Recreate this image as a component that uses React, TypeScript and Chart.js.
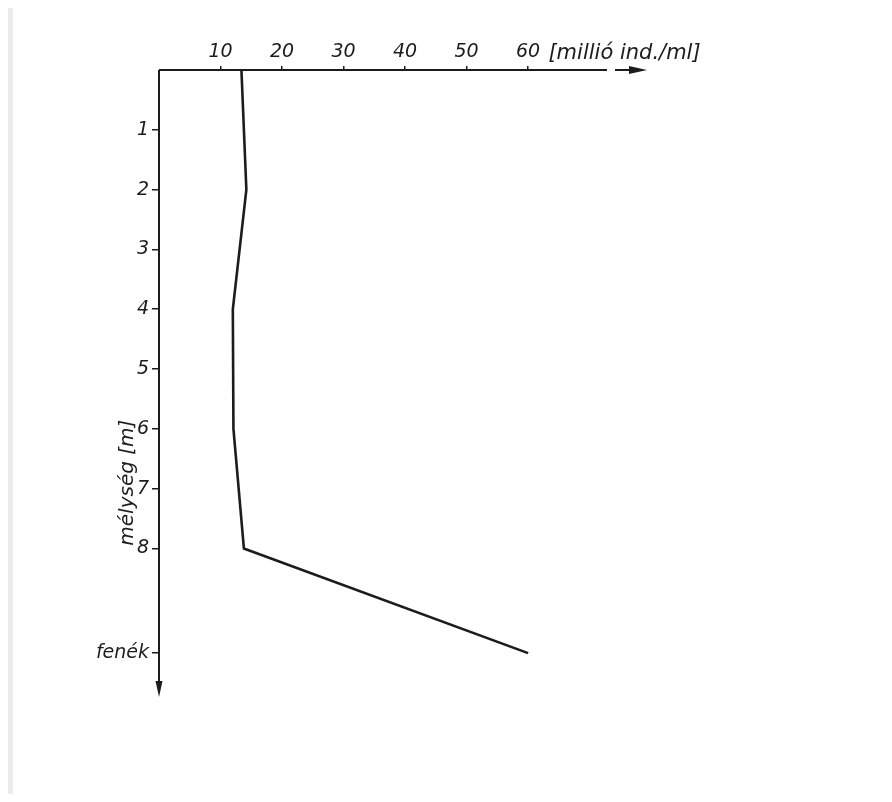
import React, { useEffect, useRef } from "react";
import { Chart, registerables } from "chart.js";

Chart.register(...registerables);

// Data
const depths = [0, 2, 4, 6, 8, 9.75];
const counts = [13.4, 14.2, 12.0, 12.1, 13.8, 60];
const xTickValues = [10, 20, 30, 40, 50, 60];
const yTickValues = [1, 2, 3, 4, 5, 6, 7, 8, 9.75];
const yTickLabels = ["1", "2", "3", "4", "5", "6", "7", "8", "fenék"];
const xUnitLabel = "[millió ind./ml]";
const yTitle = "mélység [m]";

const INK = "#1c1c1c";
const FONT = "DejaVu Sans";
const W = 892;
const H = 802;

const paperPlugin = {
  id: "paper",
  beforeDraw(chart: any) {
    const { ctx } = chart;
    ctx.save();
    ctx.fillStyle = "#ffffff";
    ctx.fillRect(0, 0, W, H);
    ctx.fillStyle = "#ececec";
    ctx.fillRect(0, 0, 13, H);
    ctx.fillRect(0, 0, W, 2);
    ctx.restore();
  },
};

const axesPlugin = {
  id: "handAxes",
  afterDraw(chart: any) {
    const { ctx, chartArea, scales } = chart;
    const x = scales.x;
    const y = scales.y;
    const x0 = x.getPixelForValue(0);
    const y0 = y.getPixelForValue(0);
    ctx.save();
    ctx.strokeStyle = INK;
    ctx.fillStyle = INK;
    ctx.lineWidth = 2;
    // horizontal axis with broken arrow
    const xEnd = chartArea.right;
    ctx.beginPath();
    ctx.moveTo(x0, y0);
    ctx.lineTo(xEnd - 38, y0);
    ctx.moveTo(xEnd - 30, y0);
    ctx.lineTo(xEnd - 8, y0);
    ctx.stroke();
    ctx.beginPath();
    ctx.moveTo(xEnd + 2, y0);
    ctx.lineTo(xEnd - 16, y0 - 4);
    ctx.lineTo(xEnd - 16, y0 + 4);
    ctx.closePath();
    ctx.fill();
    // vertical axis with arrow
    const yEnd = chartArea.bottom;
    ctx.beginPath();
    ctx.moveTo(x0, y0);
    ctx.lineTo(x0, yEnd - 8);
    ctx.stroke();
    ctx.beginPath();
    ctx.moveTo(x0, yEnd + 2);
    ctx.lineTo(x0 - 3.5, yEnd - 14);
    ctx.lineTo(x0 + 3.5, yEnd - 14);
    ctx.closePath();
    ctx.fill();
    // unit label on x axis
    ctx.font = `italic 21px '${FONT}'`;
    ctx.textAlign = "left";
    ctx.textBaseline = "bottom";
    ctx.fillText(xUnitLabel, x.getPixelForValue(63.3), y0 - 6);
    // y title rotated
    ctx.translate(x0 - 31, y.getPixelForValue(6.9));
    ctx.rotate(-Math.PI / 2);
    ctx.textAlign = "center";
    ctx.textBaseline = "middle";
    ctx.font = `italic 20px '${FONT}'`;
    ctx.fillText(yTitle, 0, 0);
    ctx.restore();
  },
};

export default function App() {
  const ref = useRef<HTMLCanvasElement | null>(null);
  useEffect(() => {
    if (!ref.current) return;
    const chart = new Chart(ref.current, {
      type: "scatter",
      data: {
        datasets: [
          {
            data: depths.map((d, i) => ({ x: counts[i], y: d })),
            showLine: true,
            borderColor: INK,
            borderWidth: 2.6,
            pointRadius: 0,
            fill: false,
          },
        ],
      },
      options: {
        animation: false,
        responsive: false,
        layout: { padding: { left: 0, top: 0, right: 247, bottom: 107 } },
        plugins: { legend: { display: false }, tooltip: { enabled: false } },
        scales: {
          x: {
            type: "linear",
            position: "top",
            min: 0,
            max: 79,
            afterBuildTicks: (s: any) => {
              s.ticks = xTickValues.map((v) => ({ value: v }));
            },
            afterFit: (s: any) => {
              s.height = 70;
            },
            ticks: {
              color: INK,
              padding: 3,
              maxRotation: 0,
              autoSkip: false,
              font: { family: FONT, size: 19, style: "italic" },
              callback: (v: any) => String(v),
            },
            grid: {
              display: true,
              drawOnChartArea: false,
              drawTicks: true,
              tickLength: 4,
              color: INK,
              lineWidth: 1.5,
            },
            border: { display: false },
          },
          y: {
            type: "linear",
            reverse: true,
            min: 0,
            max: 10.45,
            afterBuildTicks: (s: any) => {
              s.ticks = yTickValues.map((v) => ({ value: v }));
            },
            afterFit: (s: any) => {
              s.width = 159;
            },
            ticks: {
              color: INK,
              padding: 3,
              autoSkip: false,
              font: { family: FONT, size: 19, style: "italic" },
              callback: (v: any) => {
                const i = yTickValues.indexOf(Number(v));
                return i >= 0 ? yTickLabels[i] : "";
              },
            },
            grid: {
              display: true,
              drawOnChartArea: false,
              drawTicks: true,
              tickLength: 7,
              color: INK,
              lineWidth: 1.5,
            },
            border: { display: false },
          },
        },
      },
      plugins: [paperPlugin, axesPlugin],
    } as any);
    return () => chart.destroy();
  }, []);
  return (
    <div style={{ width: W, height: H, margin: -8, overflow: "hidden" }}>
      <canvas ref={ref} width={W} height={H} style={{ width: W, height: H, display: "block" }} />
    </div>
  );
}
